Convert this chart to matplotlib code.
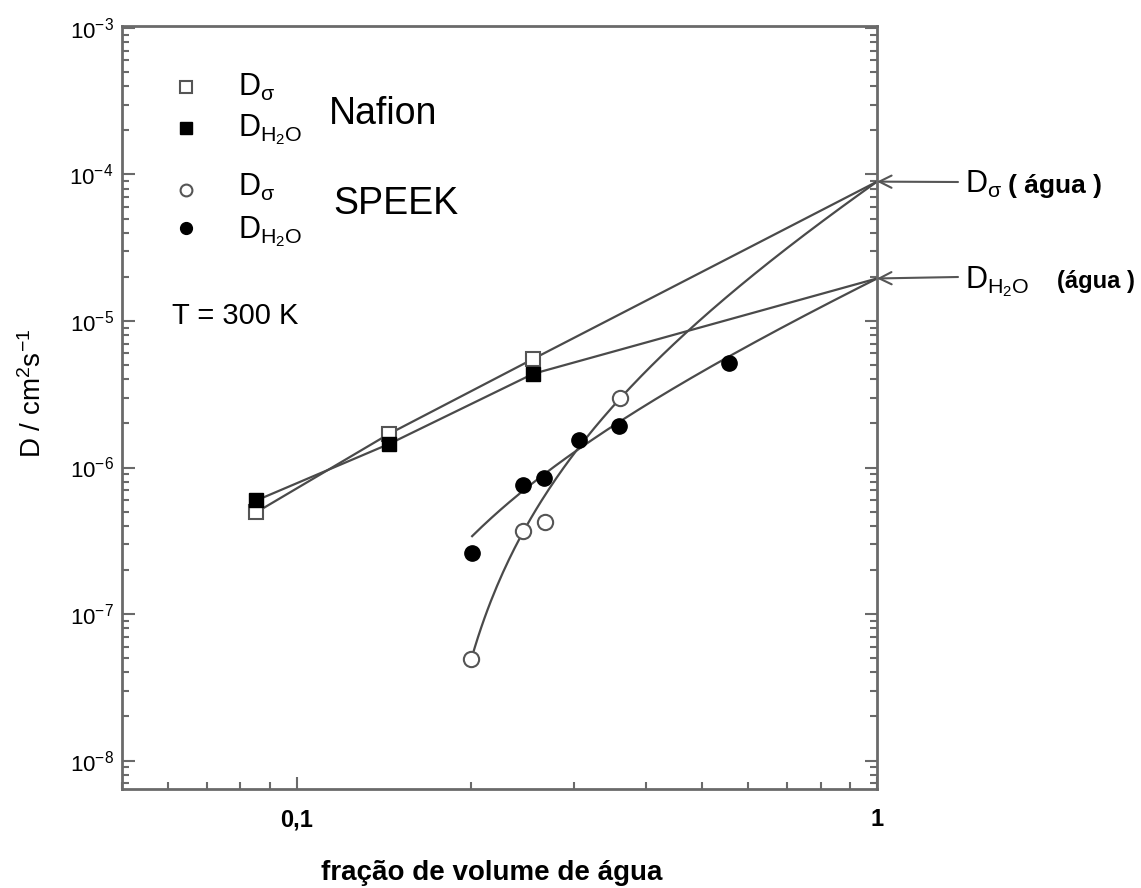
import matplotlib
matplotlib.use('Agg')
import matplotlib.pyplot as plt
import numpy as np
from matplotlib.ticker import LogLocator, NullFormatter, FixedLocator, FixedFormatter

plt.rcParams['font.family'] = ['Liberation Sans', 'DejaVu Sans']
plt.rcParams['mathtext.fontset'] = 'custom'
plt.rcParams['mathtext.rm'] = 'Liberation Sans'
plt.rcParams['mathtext.it'] = 'Liberation Sans:italic'
plt.rcParams['mathtext.bf'] = 'Liberation Sans:bold'
plt.rcParams['mathtext.default'] = 'regular'

# ---------------- data ----------------
nafion_x = [0.0852, 0.1444, 0.2556]
nafion_dsigma = [4.95e-7, 1.70e-6, 5.51e-6]
nafion_dh2o = [5.96e-7, 1.45e-6, 4.36e-6]

speek_dsigma_x = [0.200, 0.2456, 0.2675, 0.3614]
speek_dsigma = [4.95e-8, 3.68e-7, 4.24e-7, 2.97e-6]

speek_dh2o_x = [0.2006, 0.2456, 0.2666, 0.3067, 0.3591, 0.5565]
speek_dh2o = [2.60e-7, 7.54e-7, 8.45e-7, 1.53e-6, 1.92e-6, 5.15e-6]

water_x = 1.0
water_dsigma = 8.93e-5
water_dh2o = 1.95e-5

ytick_values = [1e-8, 1e-7, 1e-6, 1e-5, 1e-4, 1e-3]
xtick_values = [0.1, 1.0]
xtick_labels = ['0,1', '1']

# ---------------- figure ----------------
W, H = 1141, 888
fig = plt.figure(figsize=(W / 100, H / 100), dpi=100)
L, R, T, B = 122, 877, 26, 789
ax = fig.add_axes([L / W, 1 - B / H, (R - L) / W, (B - T) / H])
ax.set_xscale('log')
ax.set_yscale('log')
ax.set_xlim(0.05, 1.0)
ax.set_ylim(6.4e-9, 1.03e-3)

spine_c = '#6a6a6a'
line_c = '#4a4a4a'
for s in ax.spines.values():
    s.set_color(spine_c)
    s.set_linewidth(2)

# Nafion straight segments (points -> pure water value)
ax.plot(nafion_x + [water_x], nafion_dsigma + [water_dsigma], '-', color=line_c, lw=1.6, zorder=2)
ax.plot(nafion_x + [water_x], nafion_dh2o + [water_dh2o], '-', color=line_c, lw=1.6, zorder=2)

# SPEEK trend curves: percolation-type fit  log D = A + n log(x - xc)
def fit_curve(xs, ys, xw, yw, weights):
    x = np.array(xs + [xw])
    ly = np.log10(np.array(ys + [yw]))
    w = np.array(weights, dtype=float)
    best = None
    for xc in np.linspace(0.0, min(xs) - 0.004, 400):
        lx = np.log10(x - xc)
        c = np.polyfit(lx, ly, 1, w=w)
        res = np.sum((w * (np.polyval(c, lx) - ly)) ** 2)
        if best is None or res < best[0]:
            best = (res, xc, c)
    _, xc, c = best
    xx = np.linspace(x[0], x[-1], 300)
    return xx, 10 ** np.polyval(c, np.log10(xx - xc))

cx, cy = fit_curve(speek_dsigma_x, speek_dsigma, water_x, water_dsigma, [5, 1, 0.1, 5, 10])
ax.plot(cx, cy, '-', color=line_c, lw=1.6, zorder=2)
cx, cy = fit_curve(speek_dh2o_x, speek_dh2o, water_x, water_dh2o, [0.4, 1, 1, 1, 1, 1, 10])
ax.plot(cx, cy, '-', color=line_c, lw=1.6, zorder=2)

# markers
open_kw = dict(linestyle='none', mfc='white', mec='#555555', mew=1.5, zorder=4)
fill_kw = dict(linestyle='none', color='black', zorder=4)
ax.plot(nafion_x, nafion_dsigma, marker='s', ms=10, **open_kw)
ax.plot(nafion_x, nafion_dh2o, marker='s', ms=10, **fill_kw)
ax.plot(speek_dsigma_x, speek_dsigma, marker='o', ms=11, **open_kw)
ax.plot(speek_dh2o_x, speek_dh2o, marker='o', ms=11, **fill_kw)

# ticks
ax.yaxis.set_major_locator(FixedLocator(ytick_values))
ax.yaxis.set_minor_locator(LogLocator(base=10, subs=np.arange(2, 10), numticks=20))
ax.yaxis.set_minor_formatter(NullFormatter())
ax.xaxis.set_major_locator(FixedLocator(xtick_values))
ax.xaxis.set_major_formatter(FixedFormatter(xtick_labels))
ax.xaxis.set_minor_locator(LogLocator(base=10, subs=np.arange(2, 10), numticks=20))
ax.xaxis.set_minor_formatter(NullFormatter())
ax.tick_params(which='both', direction='in', left=True, right=True, top=False, bottom=True,
               color=spine_c, width=1.5)
ax.tick_params(which='major', length=9)
ax.tick_params(which='minor', length=5)
ax.tick_params(axis='y', which='major', labelsize=16, pad=6)
ax.tick_params(axis='x', which='major', labelsize=17, pad=14)
for lab in ax.get_xticklabels():
    lab.set_fontweight('bold')
    lab.set_family(['Liberation Sans Narrow', 'Liberation Sans'])

def fxy(px, py):
    return px / W, 1 - py / H

# axis labels
fig.text(*fxy(492, 873), 'fração de volume de água', ha='center', va='center',
         fontsize=20, fontweight='bold')
fig.text(*fxy(33, 393), r'D / cm$^2$s$^{-1}$', ha='center', va='center',
         fontsize=20, rotation=90)

# legend (manual)
def ax_pt(px, py):
    return (px - L) / (R - L), (B - py) / (B - T)

for (px, py, mk, filled) in [(186, 87, 's', False), (186, 128, 's', True),
                            (186, 190, 'o', False), (186, 228, 'o', True)]:
    xa, ya = ax_pt(px, py)
    kw = fill_kw if filled else open_kw
    ax.plot([xa], [ya], marker=mk, ms=8.5, transform=ax.transAxes, clip_on=False, **kw)

fs = 22
fig.text(*fxy(238, 96), r'$D_\sigma$', fontsize=fs, va='baseline')
fig.text(*fxy(238, 136), r'$D_{H_2O}$', fontsize=fs, va='baseline')
fig.text(*fxy(238, 196), r'$D_\sigma$', fontsize=fs, va='baseline')
fig.text(*fxy(238, 238), r'$D_{H_2O}$', fontsize=fs, va='baseline')
fig.text(*fxy(329, 124), 'Nafion', fontsize=27, va='baseline')
fig.text(*fxy(333, 214), 'SPEEK', fontsize=27, va='baseline')
fig.text(*fxy(172, 324), 'T = 300 K', fontsize=21, va='baseline')

# right annotations
for (yv, py, lab, px2, txt, tfs) in [(water_dsigma, 193, r'$D_\sigma$', 1008, '( água )', 19),
                                     (water_dh2o, 288, r'$D_{H_2O}$', 1057, '(água )', 17)]:
    ax.annotate('', xy=(water_x, yv), xycoords='data',
                xytext=(958, H - (py - 11)), textcoords='figure pixels',
                arrowprops=dict(arrowstyle='->', color='#555555', lw=1.5,
                                shrinkA=0, shrinkB=0, mutation_scale=22))
    fig.text(*fxy(965, py), lab, fontsize=fs, va='baseline')
    fig.text(*fxy(px2, py), txt, fontsize=tfs, fontweight='bold', va='baseline')

fig.savefig('out.png', dpi=100)
